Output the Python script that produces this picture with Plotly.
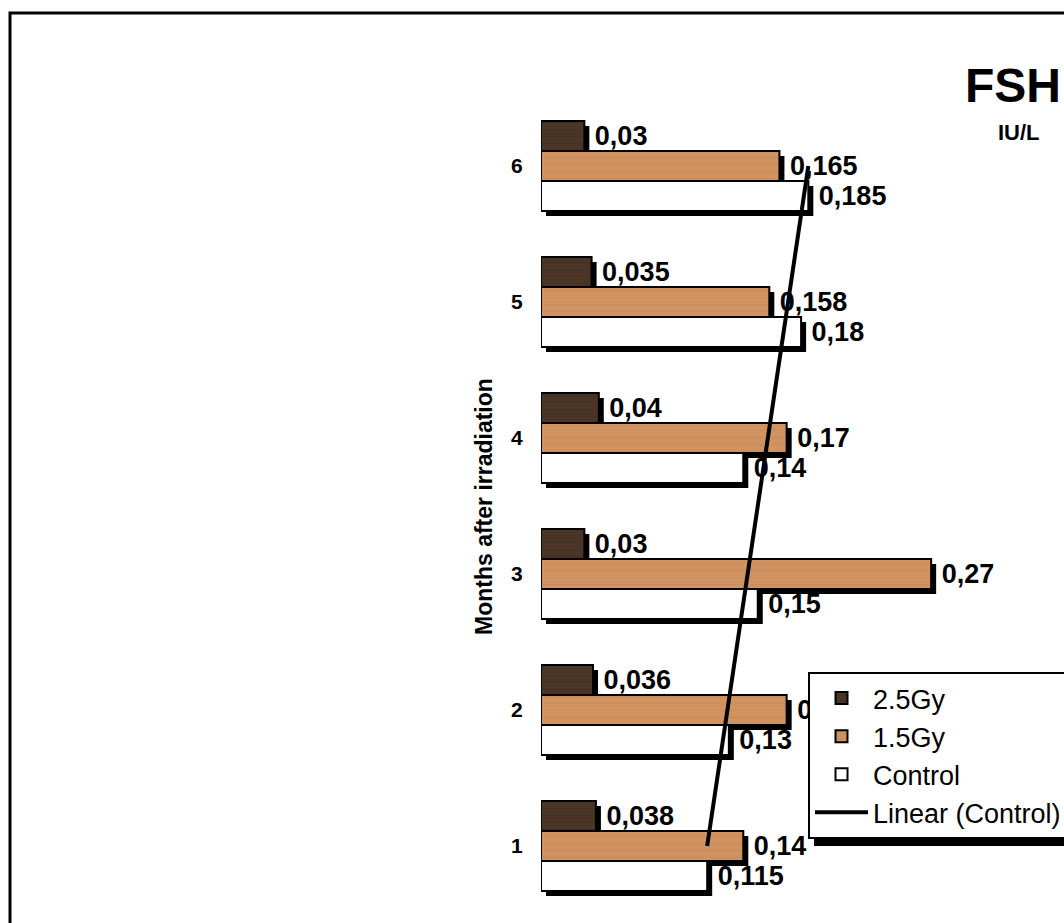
import numpy as np
import plotly.graph_objects as go

# ---------------- data ----------------
months = [1, 2, 3, 4, 5, 6]
gy25 = [0.038, 0.036, 0.03, 0.04, 0.035, 0.03]
gy15 = [0.14, 0.17, 0.27, 0.17, 0.158, 0.165]
control = [0.115, 0.13, 0.15, 0.14, 0.18, 0.185]
series_names = ["2.5Gy", "1.5Gy", "Control"]
title_text = "FSH"
unit_text = "IU/L"
axis_title = "Months after irradiation"

# ---------------- style ----------------
FONT = "Liberation Sans, Arial, sans-serif"
W, H = 1064, 923
X0_PX = 541          # pixel of value 0
PX_PER_UNIT = 1445   # horizontal scale
Y6_PX = 166          # pixel of month 6 center
PX_PER_MONTH = 136
BAR_W = 30 / PX_PER_MONTH
SH_X = 5 / PX_PER_UNIT
SH_Y = 5 / PX_PER_MONTH

x_range = [0, (W - X0_PX) / PX_PER_UNIT]
y_range = [6 - (H - Y6_PX) / PX_PER_MONTH, 6 + Y6_PX / PX_PER_MONTH]

offsets = [BAR_W / 2, -BAR_W / 2, -1.5 * BAR_W]
colors = [
    dict(bg="#4b3527", fg="#2e1f15"),
    dict(bg="#cf9462", fg="#b0713f"),
    dict(bg="#ffffff", fg="#ffffff"),
]
values = [gy25, gy15, control]


def fmt(v):
    return " " + ("%g" % v).replace(".", ",")


fig = go.Figure()

# shadows
for vals, off in zip(values, offsets):
    fig.add_trace(go.Bar(
        y=months, x=vals, base=SH_X, orientation="h",
        offset=off - SH_Y, width=BAR_W,
        marker=dict(color="black", line=dict(width=0)),
        showlegend=False, hoverinfo="skip",
    ))

# main bars
for name, vals, off, c in zip(series_names, values, offsets, colors):
    fig.add_trace(go.Bar(
        y=months, x=vals, orientation="h", name=name,
        offset=off, width=BAR_W,
        marker=dict(
            color=c["bg"],
            line=dict(color="black", width=2),
            pattern=dict(shape="-", bgcolor=c["bg"], fgcolor=c["fg"],
                         fgopacity=0.2, size=7, solidity=0.25)
            if name != "Control" else None,
        ),
        text=[fmt(v) for v in vals], textposition="outside",
        textfont=dict(family=FONT, size=27, color="black", weight="bold"),
        constraintext="none", cliponaxis=False,
    ))

# linear trend of control
slope, intercept = np.polyfit(months, control, 1)
trend_y = [months[0], months[-1]]
trend_x = [slope * m + intercept for m in trend_y]
fig.add_trace(go.Scatter(
    x=trend_x, y=trend_y, mode="lines", name="Linear (Control)",
    line=dict(color="black", width=4),
))

fig.update_layout(
    width=W, height=H,
    margin=dict(l=0, r=0, t=0, b=0, autoexpand=False),
    paper_bgcolor="white", plot_bgcolor="white",
    barmode="overlay",
    font=dict(family=FONT, color="black"),
    xaxis=dict(domain=[X0_PX / W, 1], range=x_range, visible=False),
    yaxis=dict(range=y_range, tickvals=months, ticktext=[str(m) for m in months],
               showgrid=False, zeroline=False, showline=False,
               ticks="outside", ticklen=13, tickcolor="rgba(0,0,0,0)",
               tickfont=dict(family=FONT, size=21, weight="bold")),
    legend=dict(x=808 / W, y=1 - 672 / H, xanchor="left", yanchor="top",
                bgcolor="white", bordercolor="black", borderwidth=2,
                font=dict(family=FONT, size=27), itemwidth=53,
                traceorder="normal", tracegroupgap=0),
    showlegend=True,
)

# outer frame
fig.add_shape(type="rect", xref="paper", yref="paper",
              x0=10 / W, x1=1.2, y0=-0.2, y1=1 - 13 / H,
              line=dict(color="black", width=3), layer="below")
# legend shadow
fig.add_shape(type="rect", xref="paper", yref="paper",
              x0=814 / W, x1=1.2, y0=1 - 846 / H, y1=1 - 678 / H,
              line=dict(width=0), fillcolor="black", layer="above")

fig.add_annotation(text=title_text, xref="paper", yref="paper",
                   x=1.0, y=1 - 85 / H, xanchor="right", yanchor="middle",
                   showarrow=False, xshift=-1,
                   font=dict(family=FONT, size=48, weight="bold"))
fig.add_annotation(text=unit_text, xref="paper", yref="paper",
                   x=996 / W, y=1 - 132 / H, xanchor="left", yanchor="middle",
                   showarrow=False,
                   font=dict(family=FONT, size=22, weight="bold"))
fig.add_annotation(text=axis_title, xref="paper", yref="paper",
                   x=484 / W, y=1 - 507 / H, xanchor="center", yanchor="middle",
                   textangle=-90, showarrow=False,
                   font=dict(family=FONT, size=23, weight="bold"))

fig.write_html("out.html")
